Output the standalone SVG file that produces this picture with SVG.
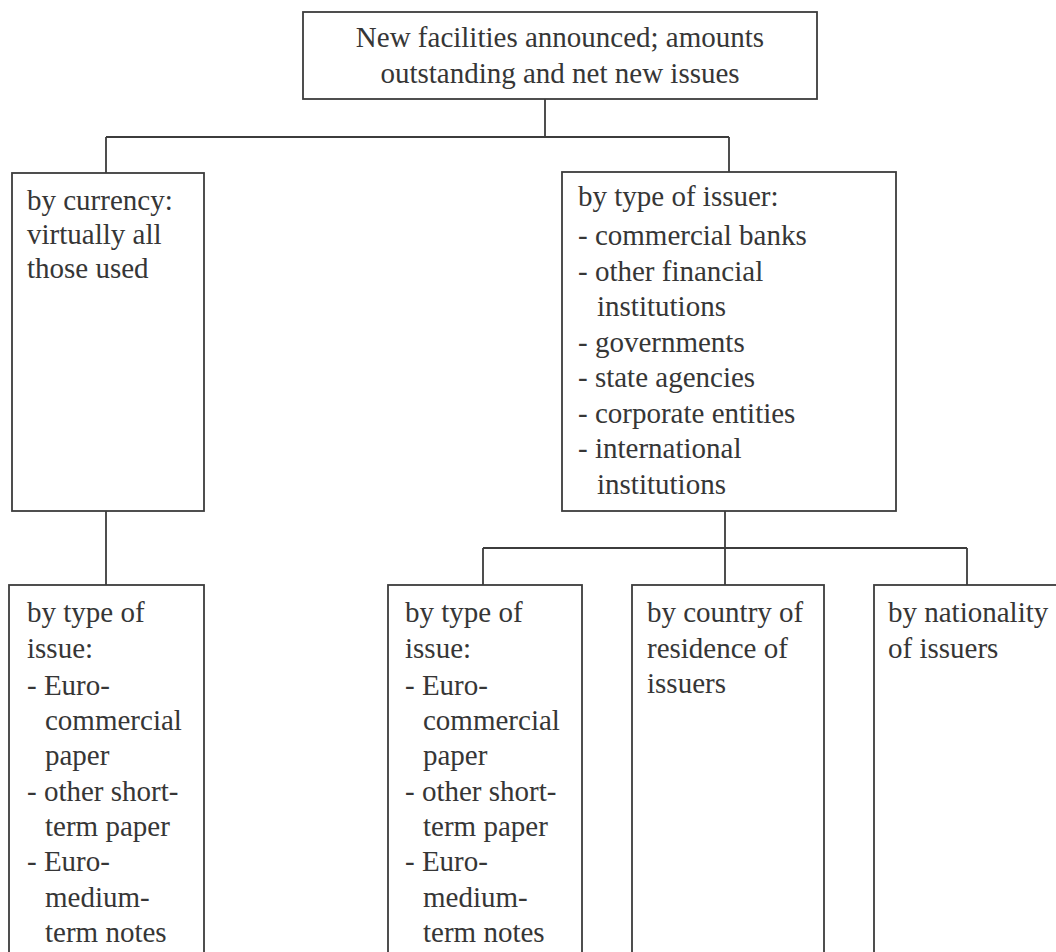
<svg xmlns="http://www.w3.org/2000/svg" width="1056" height="952" viewBox="0 0 1056 952">
<style>
.box{fill:#fff;stroke:#3c3c3c;stroke-width:1.8}
.ln{fill:none;stroke:#3c3c3c;stroke-width:1.8}
text{font-size:29px;fill:#363636}
.c{text-anchor:middle}
</style>
<rect width="1056" height="952" fill="#fff"/>
<g id="connectors">
<path class="ln" d="M545,99 V137 M106,137 H729 M106,137 V173 M729,137 V172"/>
<path class="ln" d="M106,511 V585"/>
<path class="ln" d="M725,511 V548 M483,548 H967 M483,548 V585 M725,548 V585 M967,548 V585"/>
</g>
<g font-family="Liberation Serif, Times New Roman, Times, DejaVu Serif, serif">
<g id="top">
<rect class="box" x="303" y="12" width="514" height="87"/>
<text class="c" x="560" y="47">New facilities announced; amounts</text>
<text class="c" x="560" y="83">outstanding and net new issues</text>
</g>
<g id="currency">
<rect class="box" x="12" y="173" width="192" height="338"/>
<text x="27" y="210">by currency:</text>
<text x="27" y="244">virtually all</text>
<text x="27" y="278">those used</text>
</g>
<g id="issuer">
<rect class="box" x="562" y="172" width="334" height="339"/>
<text x="578" y="206">by type of issuer:</text>
<text x="578" y="245">- commercial banks</text>
<text x="578" y="281">- other financial</text>
<text x="597" y="316">institutions</text>
<text x="578" y="352">- governments</text>
<text x="578" y="387">- state agencies</text>
<text x="578" y="423">- corporate entities</text>
<text x="578" y="458">- international</text>
<text x="597" y="494">institutions</text>
</g>
<g id="issue-left">
<rect class="box" x="9" y="585" width="195" height="420"/>
<text x="27" y="622">by type of</text>
<text x="27" y="658">issue:</text>
<text x="27" y="695">- Euro-</text>
<text x="45" y="730">commercial</text>
<text x="45" y="765">paper</text>
<text x="27" y="801">- other short-</text>
<text x="45" y="836">term paper</text>
<text x="27" y="871">- Euro-</text>
<text x="45" y="907">medium-</text>
<text x="45" y="942">term notes</text>
</g>
<g id="issue-mid">
<rect class="box" x="388" y="585" width="194" height="420"/>
<text x="405" y="622">by type of</text>
<text x="405" y="658">issue:</text>
<text x="405" y="695">- Euro-</text>
<text x="423" y="730">commercial</text>
<text x="423" y="765">paper</text>
<text x="405" y="801">- other short-</text>
<text x="423" y="836">term paper</text>
<text x="405" y="871">- Euro-</text>
<text x="423" y="907">medium-</text>
<text x="423" y="942">term notes</text>
</g>
<g id="residence">
<rect class="box" x="632" y="585" width="192" height="420"/>
<text x="647" y="622">by country of</text>
<text x="647" y="658">residence of</text>
<text x="647" y="693">issuers</text>
</g>
<g id="nationality">
<rect class="box" x="874" y="585" width="194" height="420"/>
<text x="888" y="622">by nationality</text>
<text x="888" y="658">of issuers</text>
</g>
</g>
</svg>
